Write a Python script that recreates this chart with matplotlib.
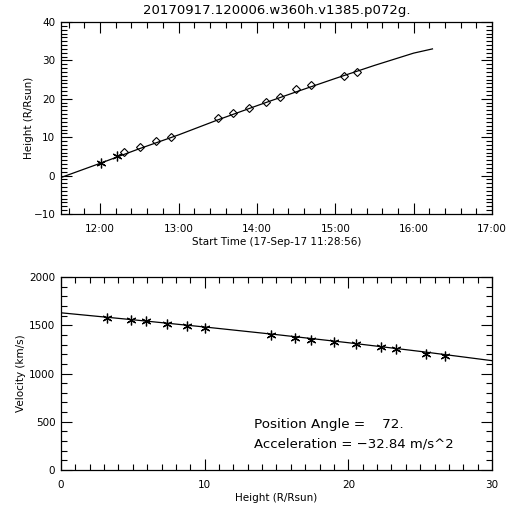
import matplotlib
matplotlib.use('Agg')
import matplotlib.pyplot as plt
from matplotlib.ticker import MultipleLocator, FuncFormatter

# height-time measurements (hours since 00:00 on 17-Sep-17, R/Rsun)
starTimes = [12.01, 12.21]
starHeights = [3.3, 5.1]
diamondTimes = [12.30, 12.51, 12.71, 12.91, 13.51, 13.70, 13.90, 14.11,
                14.30, 14.50, 14.69, 15.11, 15.28]
diamondHeights = [6.1, 7.4, 8.9, 10.1, 14.9, 16.4, 17.5, 19.2,
                  20.6, 22.5, 23.6, 25.9, 27.0]
fitTimes = [11.50, 12.0, 12.5, 13.0, 13.5, 14.0, 14.5, 15.0, 15.5, 16.0, 16.24]
fitHeights = [-0.5, 3.2, 7.0, 10.6, 14.5, 18.2, 21.8, 25.3, 28.7, 31.9, 33.0]

# velocity vs height
velHeights = [3.2, 4.9, 5.9, 7.4, 8.8, 10.0, 14.65, 16.3, 17.4, 19.0,
              20.5, 22.3, 23.3, 25.4, 26.7]
velValues = [1577, 1557, 1546, 1515, 1495, 1474, 1402, 1371, 1350, 1330,
             1309, 1278, 1258, 1206, 1185]
velFitHeights = [0, 5, 10, 15, 20, 25, 30]
velFitValues = [1629, 1557, 1482, 1403, 1319, 1229, 1133]

title = '20170917.120006.w360h.v1385.p072g.'
positionAngle = '72.'
acceleration = '-32.84'

plt.rcParams['font.family'] = 'DejaVu Sans'
plt.rcParams['font.size'] = 7.5
asterisk = (6, 2, 0)


def styleAxes(ax, xMajor, xMinor, yMajor, yMinor):
    ax.xaxis.set_major_locator(MultipleLocator(xMajor))
    ax.xaxis.set_minor_locator(MultipleLocator(xMinor))
    ax.yaxis.set_major_locator(MultipleLocator(yMajor))
    ax.yaxis.set_minor_locator(MultipleLocator(yMinor))
    ax.tick_params(which='both', direction='in', top=True, right=True,
                   width=0.8)
    ax.tick_params(axis='y', pad=4)
    ax.tick_params(axis='x', pad=7)
    ax.tick_params(which='major', length=8)
    ax.tick_params(which='minor', length=4)
    for s in ax.spines.values():
        s.set_linewidth(0.9)


fig = plt.figure(figsize=(5.12, 5.12), dpi=100)

ax1 = fig.add_axes([0.119, 0.582, 0.842, 0.375])
ax1.plot(fitTimes, fitHeights, color='black', lw=0.9)
ax1.plot(starTimes, starHeights, ls='none', marker=asterisk, ms=7, mew=0.9, color='black')
ax1.plot(diamondTimes, diamondHeights, ls='none', marker='D', ms=4.5, mfc='none',
         mec='black', mew=0.8)
ax1.set_xlim(11.5, 17.0)
ax1.set_ylim(-10, 40)
styleAxes(ax1, 1.0, 0.2, 10, 1)
ax1.xaxis.set_major_formatter(FuncFormatter(lambda v, p: f'{int(round(v)):02d}:00'))
ax1.set_xlabel('Start Time (17-Sep-17 11:28:56)', labelpad=2)
ax1.set_ylabel('Height (R/Rsun)', labelpad=-0.5)
ax1.set_title(title, fontsize=9.5, pad=6)

ax2 = fig.add_axes([0.119, 0.082, 0.842, 0.377])
ax2.plot(velFitHeights, velFitValues, color='black', lw=0.9)
ax2.plot(velHeights, velValues, ls='none', marker=asterisk, ms=7, mew=0.9, color='black')
ax2.set_xlim(0, 30)
ax2.set_ylim(0, 2000)
styleAxes(ax2, 10, 1, 500, 100)
ax2.set_xlabel('Height (R/Rsun)', labelpad=2)
ax2.set_ylabel('Velocity (km/s)', labelpad=2)
ax2.text(13.45, 474, f'Position Angle =    {positionAngle}', fontsize=9.7, va='center')
ax2.text(13.45, 268, f'Acceleration = \u2212{acceleration[1:]} m/s^2', fontsize=9.5, va='center')

fig.savefig('out.png', dpi=100)
